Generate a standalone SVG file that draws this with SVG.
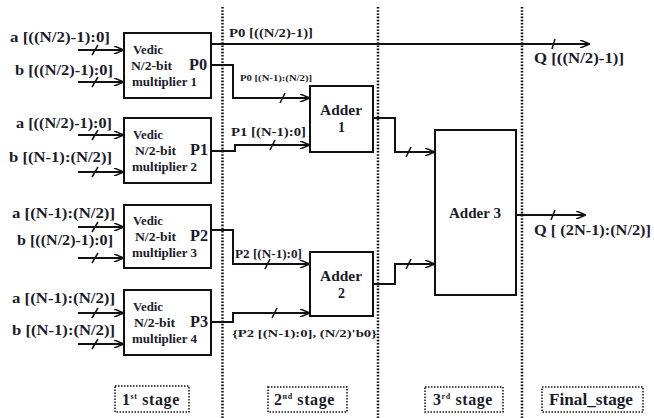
<svg xmlns="http://www.w3.org/2000/svg" width="654" height="418" viewBox="0 0 654 418" font-family="'Liberation Serif', 'Times New Roman', serif">
<defs>
<marker id="ah" markerWidth="10" markerHeight="8" refX="9" refY="4" orient="auto" markerUnits="userSpaceOnUse">
<path d="M0,0 L10,4 L0,8" fill="none" stroke="#111" stroke-width="1.6"/>
</marker>
<style>
text{font-family:'Liberation Serif',serif;font-weight:bold;fill:#1b1b2a}
.lbl{font-size:14.5px}
.sm{font-size:9px}
.box{fill:#fff;stroke:#111;stroke-width:2}
.ar{fill:none;stroke:#111;stroke-width:2;marker-end:url(#ah)}
.sl{stroke:#111;stroke-width:1.5}
.dot{stroke:#111;stroke-width:2.5;stroke-dasharray:1.6 1.6;fill:none}
.sbox{fill:#fff;stroke:#111;stroke-width:1.5;stroke-dasharray:1.5 1.5}
.bt{font-size:12px}
.pt{font-size:16px}
.ad{font-size:14px}
.st{font-size:16px;letter-spacing:0.6px}
</style>
</defs>
<rect width="654" height="418" fill="#fff"/>
<g id="stage-lines">
<line class="dot" x1="222.5" y1="7" x2="222.5" y2="418"/>
<line class="dot" x1="378" y1="7" x2="378" y2="418"/>
<line class="dot" x1="522" y1="7" x2="522" y2="418"/>
</g>
<g id="connectors">
<line class="ar" x1="78" y1="50" x2="123" y2="50"/><line class="sl" x1="92" y1="55" x2="98" y2="45"/>
<line class="ar" x1="78" y1="82" x2="123" y2="82"/><line class="sl" x1="92" y1="87" x2="98" y2="77"/>
<line class="ar" x1="78" y1="135" x2="123" y2="135"/><line class="sl" x1="92" y1="140" x2="98" y2="130"/>
<line class="ar" x1="78" y1="172" x2="123" y2="172"/><line class="sl" x1="92" y1="177" x2="98" y2="167"/>
<line class="ar" x1="78" y1="227" x2="123" y2="227"/><line class="sl" x1="92" y1="232" x2="98" y2="222"/>
<line class="ar" x1="78" y1="258" x2="123" y2="258"/><line class="sl" x1="92" y1="263" x2="98" y2="253"/>
<line class="ar" x1="78" y1="313" x2="123" y2="313"/><line class="sl" x1="92" y1="318" x2="98" y2="308"/>
<line class="ar" x1="78" y1="344" x2="123" y2="344"/><line class="sl" x1="92" y1="349" x2="98" y2="339"/>
<line class="ar" x1="211" y1="44" x2="589" y2="44"/><line class="sl" x1="552" y1="49" x2="555" y2="39"/>
<polyline class="ar" points="211,65 233,65 233,98 309,98"/><line class="sl" x1="280" y1="103" x2="285" y2="93"/>
<polyline class="ar" points="211,151 235,151 235,145 309,145"/><line class="sl" x1="270" y1="150" x2="275" y2="140"/>
<polyline class="ar" points="211,230 233,230 233,264 309,264"/><line class="sl" x1="265" y1="269" x2="270" y2="259"/>
<polyline class="ar" points="211,322 233,322 233,313 309,313"/><line class="sl" x1="272" y1="318" x2="277" y2="308"/>
<polyline class="ar" points="373,118 395,118 395,152 434,152"/><line class="sl" x1="406" y1="157" x2="411" y2="147"/>
<polyline class="ar" points="373,284 395,284 395,264 434,264"/><line class="sl" x1="406" y1="269" x2="411" y2="259"/>
<line class="ar" x1="516" y1="215" x2="585" y2="215"/><line class="sl" x1="551" y1="220" x2="555" y2="210"/>
</g>
<g id="input-labels">
<text class="lbl" x="10" y="42" textLength="100" lengthAdjust="spacingAndGlyphs">a [((N/2)-1):0]</text>
<text class="lbl" x="15" y="75" textLength="98" lengthAdjust="spacingAndGlyphs">b [((N/2)-1):0]</text>
<text class="lbl" x="16" y="128" textLength="96" lengthAdjust="spacingAndGlyphs">a [((N/2)-1):0]</text>
<text class="lbl" x="9" y="162" textLength="103" lengthAdjust="spacingAndGlyphs">b [(N-1):(N/2)]</text>
<text class="lbl" x="12" y="218" textLength="103" lengthAdjust="spacingAndGlyphs">a [(N-1):(N/2)]</text>
<text class="lbl" x="17" y="245" textLength="96" lengthAdjust="spacingAndGlyphs">b [((N/2)-1):0]</text>
<text class="lbl" x="12" y="303" textLength="103" lengthAdjust="spacingAndGlyphs">a [(N-1):(N/2)]</text>
<text class="lbl" x="12" y="335" textLength="103" lengthAdjust="spacingAndGlyphs">b [(N-1):(N/2)]</text>
</g>
<g id="mult1">
<rect class="box" x="124" y="33" width="87" height="65"/>
<text class="bt" x="133" y="54" textLength="30" lengthAdjust="spacingAndGlyphs">Vedic</text>
<text class="bt" x="131" y="70" textLength="41" lengthAdjust="spacingAndGlyphs">N/2-bit</text>
<text class="bt" x="132" y="86" textLength="65" lengthAdjust="spacingAndGlyphs">multiplier 1</text>
<text class="pt" x="189" y="70" textLength="18" lengthAdjust="spacingAndGlyphs">P0</text>
</g>
<g id="mult2">
<rect class="box" x="124" y="118" width="87" height="65"/>
<text class="bt" x="133" y="139" textLength="30" lengthAdjust="spacingAndGlyphs">Vedic</text>
<text class="bt" x="135" y="155" textLength="41" lengthAdjust="spacingAndGlyphs">N/2-bit</text>
<text class="bt" x="132" y="171" textLength="65" lengthAdjust="spacingAndGlyphs">multiplier 2</text>
<text class="pt" x="190" y="155" textLength="18" lengthAdjust="spacingAndGlyphs">P1</text>
</g>
<g id="mult3">
<rect class="box" x="124" y="205" width="87" height="63"/>
<text class="bt" x="133" y="225" textLength="30" lengthAdjust="spacingAndGlyphs">Vedic</text>
<text class="bt" x="135" y="241" textLength="41" lengthAdjust="spacingAndGlyphs">N/2-bit</text>
<text class="bt" x="132" y="257" textLength="65" lengthAdjust="spacingAndGlyphs">multiplier 3</text>
<text class="pt" x="190" y="241" textLength="18" lengthAdjust="spacingAndGlyphs">P2</text>
</g>
<g id="mult4">
<rect class="box" x="124" y="290" width="87" height="65"/>
<text class="bt" x="133" y="311" textLength="30" lengthAdjust="spacingAndGlyphs">Vedic</text>
<text class="bt" x="134" y="327" textLength="41" lengthAdjust="spacingAndGlyphs">N/2-bit</text>
<text class="bt" x="132" y="343" textLength="65" lengthAdjust="spacingAndGlyphs">multiplier 4</text>
<text class="pt" x="190" y="327" textLength="18" lengthAdjust="spacingAndGlyphs">P3</text>
</g>
<g id="adder1">
<rect class="box" x="310" y="86" width="63" height="66"/>
<text class="ad" x="320" y="115" textLength="42" lengthAdjust="spacingAndGlyphs">Adder</text>
<text class="ad" x="341.5" y="132" text-anchor="middle">1</text>
</g>
<g id="adder2">
<rect class="box" x="310" y="252" width="63" height="64"/>
<text class="ad" x="320" y="281" textLength="42" lengthAdjust="spacingAndGlyphs">Adder</text>
<text class="ad" x="341.5" y="298" text-anchor="middle">2</text>
</g>
<g id="adder3">
<rect class="box" x="435" y="130" width="81" height="165"/>
<text class="ad" x="449" y="218" textLength="52" lengthAdjust="spacingAndGlyphs">Adder 3</text>
</g>
<g id="wire-labels">
<text class="lbl" x="229" y="37" style="font-size:13px" textLength="84" lengthAdjust="spacingAndGlyphs">P0 [((N/2)-1)]</text>
<text class="sm" x="240" y="81" textLength="72" lengthAdjust="spacingAndGlyphs">P0 [(N-1):(N/2)]</text>
<text class="lbl" x="231" y="136" style="font-size:13px" textLength="75" lengthAdjust="spacingAndGlyphs">P1 [(N-1):0]</text>
<text class="lbl" x="235" y="258" style="font-size:11.5px" textLength="67" lengthAdjust="spacingAndGlyphs">P2 [(N-1):0]</text>
<text class="lbl" x="232" y="337" style="font-size:11px" textLength="145" lengthAdjust="spacingAndGlyphs">{P2 [(N-1):0], (N/2)'b0}</text>
<text class="lbl" x="534" y="63" textLength="90" lengthAdjust="spacingAndGlyphs">Q [((N/2)-1)]</text>
<text class="lbl" x="534" y="235" textLength="117" lengthAdjust="spacingAndGlyphs">Q [ (2N-1):(N/2)]</text>
</g>
<g id="stage1">
<rect class="sbox" x="115" y="386" width="74" height="26"/>
<text class="st" x="122" y="405">1<tspan font-size="8" dy="-6">st</tspan><tspan dy="6"> stage</tspan></text>
</g>
<g id="stage2">
<rect class="sbox" x="268" y="387" width="79" height="25"/>
<text class="st" x="274" y="405">2<tspan font-size="8" dy="-6">nd</tspan><tspan dy="6"> stage</tspan></text>
</g>
<g id="stage3">
<rect class="sbox" x="425" y="387" width="78" height="25"/>
<text class="st" x="433" y="405">3<tspan font-size="8" dy="-6">rd</tspan><tspan dy="6"> stage</tspan></text>
</g>
<g id="stage4">
<rect class="sbox" x="542" y="387" width="101" height="25"/>
<text class="lbl" x="549" y="405" style="font-size:16px" textLength="84" lengthAdjust="spacingAndGlyphs">Final_stage</text>
</g>
</svg>
